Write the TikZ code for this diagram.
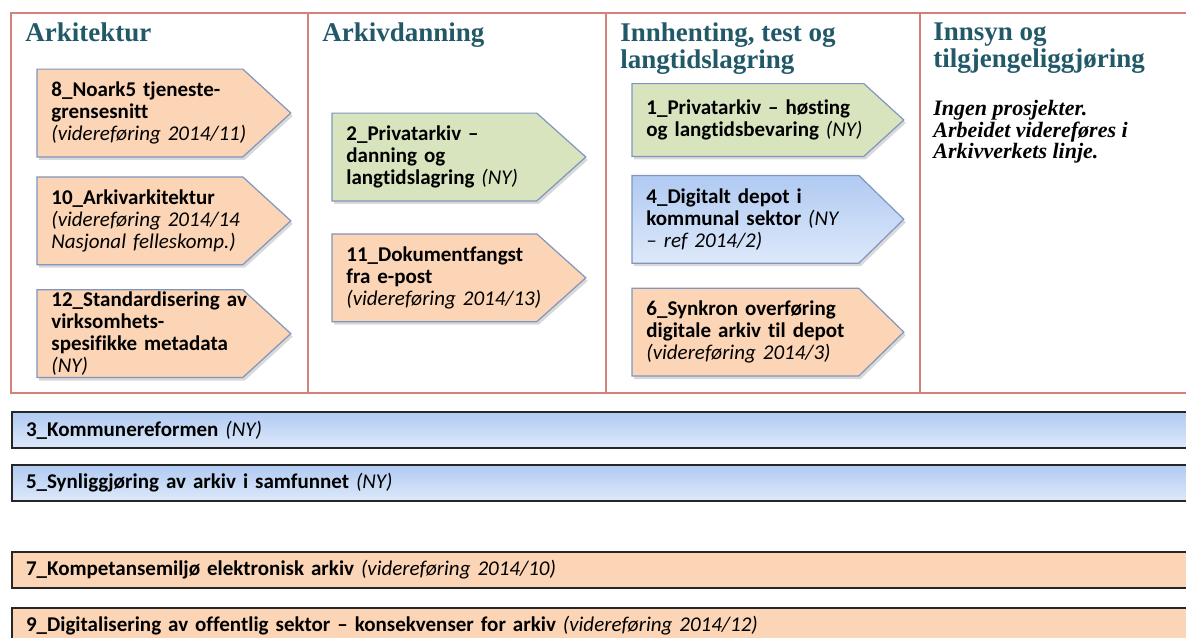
\documentclass[tikz,border=0pt]{standalone}
\usepackage{fontspec}
\setmainfont{Carlito}[Ligatures={TeX,NoCommon}]
\newfontfamily\headfont{Liberation Serif}
\usetikzlibrary{positioning,backgrounds,shadows}

\definecolor{headteal}{RGB}{33,89,104}
\definecolor{tablered}{RGB}{214,128,122}
\definecolor{edgeblue}{RGB}{128,150,190}
\definecolor{peachfill}{RGB}{251,213,181}
\definecolor{leaffill}{RGB}{215,228,189}
\definecolor{bluetop}{RGB}{176,202,242}
\definecolor{bluebottom}{RGB}{222,233,250}

\newcommand{\status}[1]{{\mdseries\itshape #1}}

\begin{document}
\begin{tikzpicture}
[x=0.5pt, y=-0.5pt,
% STYLES
% The heading style is used for the titles of the columns
heading/.style={anchor=north west, inner sep=0pt, align=left, text=headteal, font=\headfont\bfseries\fontsize{13.5}{13.5}\selectfont},
% The project style is used for the arrow-shaped boxes (the arrow itself is drawn on the background)
project/.style={rectangle, anchor=west, inner xsep=7pt, inner ysep=0pt, text width=112.5pt, minimum height=43.5pt, align=left, font=\bfseries\fontsize{10.5}{11}\selectfont},
wide/.style={text width=121.5pt},
% The band style is used for the projects that run across all the columns
band/.style={rectangle, draw=black!85, line width=1pt, anchor=north west, inner xsep=7pt, text width=586pt, minimum height=18pt, align=left, font=\bfseries\fontsize{10.5}{11}\selectfont},
outline/.style={draw=edgeblue, line width=0.6pt, drop shadow={shadow xshift=1pt, shadow yshift=-1.5pt, opacity=0.3}},
peach/.style={fill=peachfill},
leaf/.style={fill=leaffill},
sky/.style={top color=bluetop, bottom color=bluebottom}]

\useasboundingbox (0,0) rectangle (1186,637);
\clip (0,0) rectangle (1186,637);

% Draw the table
\draw[tablered, line width=1pt] (11,13) rectangle (1200,393);
\foreach \x in {308,606,920}
  \draw[tablered, line width=1pt] (\x,13) -- (\x,393);

% Draw the column titles
\node[heading] (arkitektur) at (25,22) {Arkitektur};
\node[heading] (arkivdanning) at (322,22) {Arkivdanning};
\node[heading] (innhenting) at (620,22) {Innhenting, test og\\langtidslagring};
\node[heading] (innsyn) at (933,22) {Innsyn og\\tilgjengeliggjøring};

%%%%%%%%%%%%%%%
% Projects

% ARKITEKTUR
\node[project] (p8) at (37,113) {8\_Noark5 tjeneste-\\grensesnitt\\\status{(videreføring 2014/11)}};
\node[project, below=10pt of p8] (p10) {10\_Arkivarkitektur\\\status{(videreføring 2014/14}\\\status{Nasjonal felleskomp.)}};
\node[project, below=12.5pt of p10] (p12) {12\_Standardisering av\\virksomhets-\\spesifikke metadata\\\status{(NY)}};

% ARKIVDANNING
\node[project] (p2) at (332,157) {2\_Privatarkiv --\\danning og\\langtidslagring \status{(NY)}};
\node[project, below=16.5pt of p2] (p11) {11\_Dokumentfangst\\fra e-post\\\status{(videreføring 2014/13)}};

% INNHENTING
\node[project, wide, minimum height=36pt] (p1) at (632,120) {1\_Privatarkiv -- høsting\\og langtidsbevaring \status{(NY)}};
\node[project, wide, below=9.5pt of p1] (p4) {4\_Digitalt depot i\\kommunal sektor \status{(NY}\\\status{-- ref 2014/2)}};
\node[project, wide, below=12.5pt of p4] (p6) {6\_Synkron overføring\\digitale arkiv til depot\\\status{(videreføring 2014/3)}};

% INNSYN
\node[anchor=north west, inner sep=0pt, align=left, font=\headfont\bfseries\itshape\fontsize{11}{10.8}\selectfont] (ingen) at (933,100) {Ingen prosjekter.\\Arbeidet videreføres i\\Arkivverkets linje.};

% Draw the arrows behind the projects
\begin{pgfonlayer}{background}
\foreach \n/\d/\f in {p8/24/peach, p10/24/peach, p12/24/peach, p2/24.5/leaf, p11/24.5/peach, p1/20/leaf, p4/22.5/sky, p6/22.5/peach}
  \draw[outline, \f] (\n.north west) -- ([xshift=-\d pt]\n.north east) -- (\n.east) -- ([xshift=-\d pt]\n.south east) -- (\n.south west) -- cycle;
\end{pgfonlayer}

%%%%%%%%%%%%%%%
% Projects across the columns
\node[band, sky] (kommune) at (11,411) {3\_Kommunereformen \status{(NY)}};
\node[band, sky] (synlig) at (11,464) {5\_Synliggjøring av arkiv i samfunnet \status{(NY)}};
\node[band, peach] (kompetanse) at (11,551) {7\_Kompetansemiljø elektronisk arkiv \status{(videreføring 2014/10)}};
\node[band, peach] (digital) at (11,607) {9\_Digitalisering av offentlig sektor -- konsekvenser for arkiv \status{(videreføring 2014/12)}};

\end{tikzpicture}
\end{document}
